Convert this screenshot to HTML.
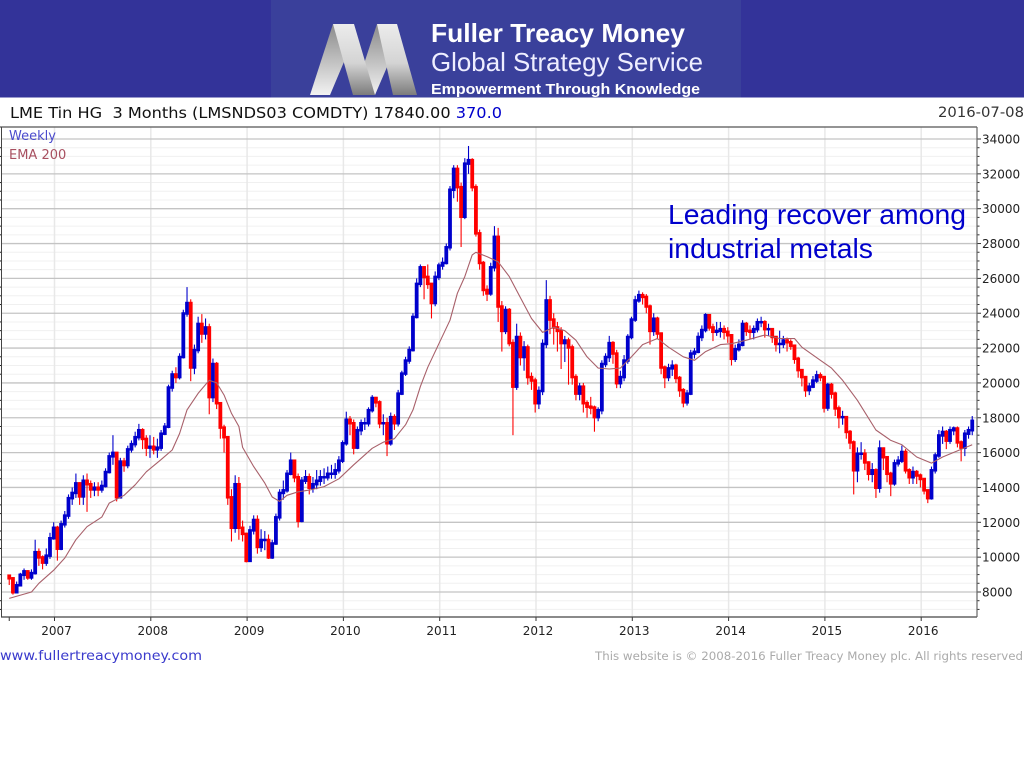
<!DOCTYPE html>
<html>
<head>
<meta charset="utf-8">
<title>LME Tin HG 3 Months weekly chart</title>
<style>
html,body{margin:0;padding:0;background:#fff;width:1024px;height:768px;overflow:hidden}
svg{display:block}
text{font-family:"DejaVu Sans",sans-serif}
.ls{font-family:"Liberation Sans",sans-serif}
</style>
</head>
<body>
<svg id="chart" xmlns="http://www.w3.org/2000/svg" width="1024" height="768" viewBox="0 0 1024 768">
  <defs>
    <linearGradient id="legUp" x1="0" y1="0" x2="0" y2="1"><stop offset="0" stop-color="#8a8a8a"/><stop offset="1" stop-color="#f2f2f2"/></linearGradient>
    <linearGradient id="legDown" x1="0" y1="0" x2="0" y2="1"><stop offset="0" stop-color="#ececec"/><stop offset="0.55" stop-color="#d4d4d4"/><stop offset="1" stop-color="#7c7c7c"/></linearGradient>
    <filter id="soft" x="-2%" y="-2%" width="104%" height="104%"><feGaussianBlur stdDeviation="0.35"/></filter>
  </defs>
  <rect x="0" y="0" width="1024" height="97.5" fill="#333399"/>
  <rect x="271" y="0" width="470" height="97.5" fill="#3a409b"/>
  <g>
    <polygon points="310,95 330,95 349,50 333,24" fill="url(#legUp)"/>
    <polygon points="362,70 377,24 390,60 375,95" fill="url(#legUp)"/>
    <polygon points="333,24 354,24 375,95 353,95" fill="url(#legDown)"/>
    <polygon points="377,24 397,24 417,95 393,95" fill="url(#legDown)"/>
  </g>
  <text class="ls" x="431" y="42" font-size="26" font-weight="bold" fill="#fff" textLength="254" lengthAdjust="spacingAndGlyphs">Fuller Treacy Money</text>
  <text class="ls" x="431" y="71" font-size="26" fill="#eef" textLength="272" lengthAdjust="spacingAndGlyphs">Global Strategy Service</text>
  <text class="ls" x="431" y="94" font-size="15" font-weight="bold" fill="#fff" textLength="269" lengthAdjust="spacingAndGlyphs">Empowerment Through Knowledge</text>

  <text x="10" y="118" font-size="15" fill="#111" textLength="492" lengthAdjust="spacingAndGlyphs" xml:space="preserve">LME Tin HG  3 Months (LMSNDS03 COMDTY) 17840.00 <tspan fill="#0000cc">370.0</tspan></text>
  <text x="1024" y="117" font-size="14.5" fill="#333" text-anchor="end" textLength="86" lengthAdjust="spacingAndGlyphs">2016-07-08</text>

  <g id="gridLayer"></g>
  <g id="barLayer" filter="url(#soft)"></g>
  <polyline id="emaLine" fill="none" stroke="#a8606a" stroke-width="1.1" stroke-linejoin="round"/>
  <g id="axisLayer"></g>

  <text x="9" y="140" font-size="13" fill="#4a4acc">Weekly</text>
  <text x="9" y="159" font-size="13" fill="#a85060">EMA 200</text>

  <text class="ls" x="668" y="224" font-size="28" fill="#0000cc" textLength="298" lengthAdjust="spacingAndGlyphs">Leading recover among</text>
  <text class="ls" x="668" y="258" font-size="28" fill="#0000cc" textLength="205" lengthAdjust="spacingAndGlyphs">industrial metals</text>

  <text x="0" y="660" font-size="13.5" fill="#3a3acc" textLength="202" lengthAdjust="spacingAndGlyphs">www.fullertreacymoney.com</text>
  <text x="1023" y="660" font-size="11.5" fill="#aaaaaa" text-anchor="end" textLength="428" lengthAdjust="spacingAndGlyphs">This website is © 2008-2016 Fuller Treacy Money plc. All rights reserved</text>
</svg>
<script>
// Fortnightly samples, first sample mid-2006.
const closes = [
8800,8000,8400,9000,9200,8850,9100,10300,10000,9700,10100,11100,11700,
10500,11900,12400,13400,13700,14250,13500,14400,14200,13900,14000,13900,14100,
14900,15800,16000,13450,15500,15300,16200,16500,16900,17300,16800,16300,16350,
16200,16300,17100,17500,19750,20500,20350,21500,24000,24600,20900,21900,23400,
22850,23200,19200,21100,18850,17450,16900,13450,11700,14200,11700,11350,9800,
11550,12150,10600,11000,11000,10000,10800,12300,13700,13850,14800,15550,14600,
12100,14400,14600,14000,14200,14400,14600,14600,14800,14800,15000,15550,16550,
17900,17700,16300,17300,17700,17700,18450,19150,18900,17700,17700,16550,18050,
17700,19400,20550,21300,21900,23800,25700,26650,26100,25700,24600,26100,26750,
26900,27800,31100,32300,31250,29550,32600,32800,31250,28600,26900,25350,25150,
26650,28400,24400,23000,24200,22300,19800,22650,21500,22050,20350,20150,18850,
19550,22250,24750,23650,23200,23000,22300,22450,22050,20350,19400,19800,18850,
18650,18600,18050,18450,21100,21500,22300,21700,20000,20350,21300,22650,23650,
24750,25050,24950,24400,23000,23700,22850,20900,20350,20850,21000,20300,19600,
18900,19400,21700,21800,22650,23050,23900,23200,22950,23000,23100,22950,22750,
21400,21950,22200,23400,23000,22950,23100,23500,23500,23100,23100,22650,22250,
22250,22450,22350,22150,21400,20750,20350,19600,19800,20150,20450,20350,18600,
19900,19400,18550,18050,18050,17200,16600,15000,15950,15950,15450,14800,15000,
14000,16250,15750,14800,14250,15400,15550,16050,15000,14600,14900,14700,14500,
13850,13400,15000,15850,17000,17200,16700,17300,17400,16600,16300,17100,17300,
17840];
const highs = [
8950,8850,8600,9100,9350,9250,9300,11000,10500,10100,10500,11400,12000,
11800,12100,12650,13600,14000,14800,14300,14700,14800,14400,14300,14300,14400,
15100,16000,17000,16000,15700,15700,16400,16700,17200,17650,17400,17000,17000,
16900,16800,17300,17700,19900,20700,20900,21700,24200,25500,24800,22200,23800,
23950,23700,23400,21400,21200,18900,17600,16950,13900,14700,14600,12100,11400,
11800,12400,12400,11600,11500,11300,11000,12500,13900,14400,15000,16000,15500,
14800,14600,15000,14800,14600,15000,15000,15100,15200,15300,15400,15800,16700,
18350,18100,17900,17500,17900,18000,18600,19300,19200,19000,18200,18000,18300,
18200,19600,20700,21500,22100,24000,26000,26800,26700,26800,25600,26400,26900,
27200,28000,31300,32500,32500,31500,32900,33600,32900,31400,28800,27000,25600,
26900,29000,28900,24700,24400,24300,22500,23400,22900,22400,22200,20600,20300,
19800,22500,25900,25000,24000,23500,23200,22700,22600,22200,20500,20000,20000,
19000,19200,18700,18600,21300,21700,22700,22400,21900,20700,21600,22800,23800,
25000,25300,25200,25100,24500,24000,23800,22900,21000,21100,21300,21100,20400,
19700,19600,21900,22000,22900,23300,24000,23900,23400,23500,23500,23300,23200,
22800,22200,22500,23600,23500,23300,23300,23700,23800,23600,23400,23100,22700,
23000,22700,22600,22500,22200,21500,20800,20400,20000,20400,20700,20600,20400,
20000,20000,19500,18700,18400,18100,17300,16700,16300,16600,16200,15500,15400,
15100,16700,16300,15800,14900,15600,15800,16400,16200,15100,15200,15000,14800,
14500,13700,15200,16000,17300,17500,17300,17500,17500,17500,16700,17300,17500,
18100];
const lows = [
8400,7850,8100,8350,8700,8700,8700,9000,9500,9300,9500,9900,11000,
9800,10400,11700,12200,13000,13400,13000,13000,12600,13400,13500,13500,13700,
14000,14800,15300,13200,13400,14900,15100,16000,16300,16700,16200,15800,15700,
15900,15700,16100,17000,17400,19500,20000,20200,21400,23800,20100,20500,21700,
22300,22500,18200,18900,18500,16800,16000,13000,10900,11400,11000,10900,9700,
9800,11300,10200,10300,10400,9900,9900,10700,12100,13300,13700,14700,14300,
11700,12000,14200,13600,13700,13900,14100,14200,14400,14500,14500,14800,15400,
16400,17000,15900,16200,17000,17300,17500,18300,18600,17400,17000,15800,16400,
17300,17500,19300,20400,21100,21800,23700,25500,24800,25400,23700,24400,25900,
26500,26800,27600,30600,30400,27800,29400,32000,31000,28400,26500,25000,24700,
25000,26400,23500,21800,22800,22100,17000,19600,21000,20700,19900,19600,18300,
18500,19300,22000,22800,22200,21800,20800,21200,19900,19900,19000,19000,18300,
18000,18200,17200,17800,18200,20900,21200,21100,19700,19700,20100,21100,22500,
23500,24600,24500,24000,22200,22700,22500,20500,19700,20100,20400,20000,19200,
18600,18700,19300,21400,21700,22400,22900,23000,22400,22700,22600,22500,22300,
21000,21200,21800,22100,22700,22500,22500,22900,23200,22600,22700,22300,21800,
21700,22000,21800,21900,21100,20300,19800,19200,19300,19700,20000,20100,18300,
18400,19100,18100,17400,17600,16800,16200,13600,14300,15600,15000,14400,14300,
13400,13700,15000,14300,13500,14100,15200,15400,14800,14200,14200,14200,14000,
13600,13100,13300,14800,15700,16500,16200,16500,17000,16300,15500,15800,16800,
17000];
// EMA 200 readings: sample index (into closes) and value.
const emaSamples = [0,6,8,12,15,18,21,25,27,31,34,37,41,44,46,48,51,54,56,58,60,62,63,66,69,71,73,75,78,81,85,89,93,98,101,104,107,109,111,113,116,119,121,123,125,126,129,132,135,138,141,144,147,150,153,156,159,162,165,168,171,175,178,182,185,188,192,195,199,204,208,212,214,219,222,225,229,234,238,241,245,249,252,256,260];
const emaValues = [7630,8000,8500,9250,9950,11000,11750,12300,13100,13550,14150,14900,15600,16150,17100,18450,19400,20150,20000,19300,18250,17500,16300,15200,14250,13450,13200,13550,13750,13850,14050,14500,15300,16250,16600,16800,17600,18450,19800,20900,22250,23600,25150,26100,27350,27500,27250,26950,26100,24900,23700,22900,23200,23000,22450,21500,20850,20800,20850,21500,22200,22550,22050,21500,21300,21800,22200,22250,22450,22750,22550,22550,22050,21300,20850,20150,19000,17300,16700,16450,15750,15400,15750,16100,16450];
const yearTicks = [2007,2008,2009,2010,2011,2012,2013,2014,2015,2016];
const priceTicks = [8000,10000,12000,14000,16000,18000,20000,22000,24000,26000,28000,30000,32000,34000];
const minorPriceTicks = [7000,7500,8500,9000,9500,10500,11000,11500,12500,13000,13500,14500,15000,15500,16500,17000,17500,18500,19000,19500,20500,21000,21500,22500,23000,23500,24500,25000,25500,26500,27000,27500,28500,29000,29500,30500,31000,31500,32500,33000,33500];

const plot = {left: 2, right: 977, top: 127, bottom: 617};
const firstDate = 2006.53, samplesPerYear = 26;
function yearX(year) { return 54.5 + (year - 2007) * 96.3; }
function sampleX(i) { return yearX(firstDate + i / samplesPerYear); }
function priceY(p) { return 592 - (p - 8000) * 0.017423; }

const NS = 'http://www.w3.org/2000/svg';
const gridLayer = document.getElementById('gridLayer');
const barLayer = document.getElementById('barLayer');
const axisLayer = document.getElementById('axisLayer');
function line(parent, x1, y1, x2, y2, color, width) {
  const el = document.createElementNS(NS, 'line');
  el.setAttribute('x1', x1);
  el.setAttribute('y1', y1);
  el.setAttribute('x2', x2);
  el.setAttribute('y2', y2);
  el.setAttribute('stroke', color);
  el.setAttribute('stroke-width', width);
  parent.appendChild(el);
  return el;
}
function label(parent, x, y, str, anchor) {
  const el = document.createElementNS(NS, 'text');
  el.setAttribute('x', x);
  el.setAttribute('y', y);
  el.setAttribute('font-size', '12');
  el.setAttribute('fill', '#222');
  el.setAttribute('text-anchor', anchor);
  el.textContent = str;
  parent.appendChild(el);
  return el;
}

minorPriceTicks.forEach(p => {
  const g = line(gridLayer, plot.left, priceY(p), plot.right, priceY(p), '#f0f0f0', 1);
  
  
  const t = line(axisLayer, plot.right, priceY(p), plot.right + 2.5, priceY(p), '#333', 1);
  
  
  const l = line(axisLayer, 0, priceY(p), plot.left, priceY(p), '#222', 1);
  
  
});
yearTicks.forEach(y => {
  const g = line(gridLayer, yearX(y), plot.top, yearX(y), plot.bottom, '#e8e8e8', 1.5);
  
  
  const t = line(axisLayer, yearX(y), plot.bottom, yearX(y), plot.bottom + 4, '#333', 1);
  
  
  const l = label(axisLayer, yearX(y) + 2, 635, String(y), 'middle');
  
  
});
priceTicks.forEach(p => {
  const g = line(gridLayer, plot.left, priceY(p), plot.right, priceY(p), '#c4c4c4', 1.3);
  
  
  const t = line(axisLayer, plot.right, priceY(p), plot.right + 4, priceY(p), '#333', 1);
  
  
  const l = label(axisLayer, 982, priceY(p) + 4.5, String(p), 'start');
  
  
});
const firstTick = line(axisLayer, sampleX(0), plot.bottom, sampleX(0), plot.bottom + 4, '#333', 1);



const topAxis = line(axisLayer, 0, plot.top, plot.right, plot.top, '#555', 1.2);


const bottomAxis = line(axisLayer, 1, plot.bottom, plot.right, plot.bottom, '#444', 1.2);


const leftAxis = line(axisLayer, 1.5, plot.top, 1.5, plot.bottom, '#444', 1);


const rightAxis = line(axisLayer, plot.right, plot.top, plot.right, plot.bottom, '#666', 1.2);



closes.forEach((c, i) => {
  const open = i === 0 ? highs[0] : closes[i - 1];
  const color = c >= open ? '#0000cc' : '#ff0000';
  const x = sampleX(i);
  const wick = line(barLayer, x, priceY(highs[i]), x, priceY(lows[i]), color, 1.1);
  
  
  const body = document.createElementNS(NS, 'rect');
  const top = priceY(Math.max(open, c));
  const h = Math.abs(priceY(open) - priceY(c));
  body.setAttribute('x', x - 1.9);
  body.setAttribute('y', top - 1);
  body.setAttribute('width', 3.8);
  body.setAttribute('height', h + 2.5);
  body.setAttribute('fill', color);
  
  
  barLayer.appendChild(body);
});

document.getElementById('emaLine').setAttribute('points',
  emaSamples.map((s, k) => sampleX(s).toFixed(1) + ',' + priceY(emaValues[k]).toFixed(1)).join(' '));
</script>
</body>
</html>
